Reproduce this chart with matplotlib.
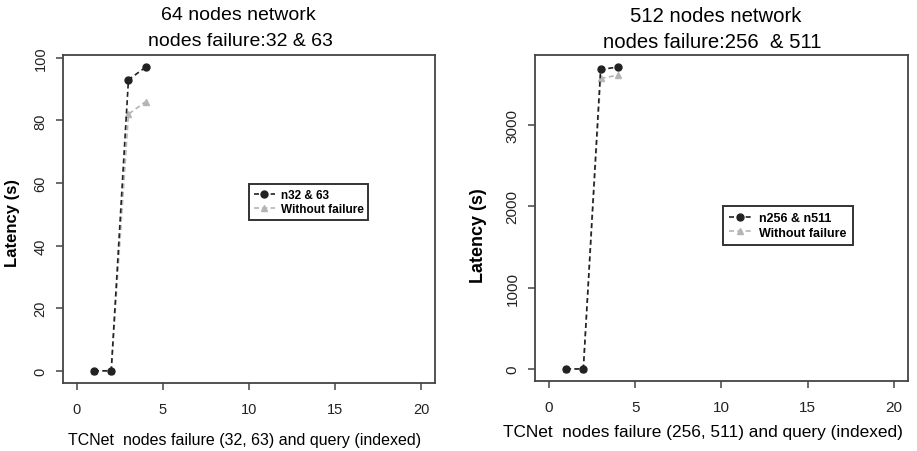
import matplotlib
matplotlib.use("Agg")
import matplotlib.pyplot as plt

plt.rcParams['font.family'] = ['Liberation Sans', 'DejaVu Sans']

x = [1, 2, 3, 4]
left_fail = [0, 0, 93, 97]
left_nofail = [0, 0, 82, 86]
right_fail = [0, 0, 3680, 3710]
right_nofail = [0, 0, 3570, 3610]
xticks = [0, 5, 10, 15, 20]
left_yticks = [0, 20, 40, 60, 80, 100]
right_yticks = [0, 1000, 2000, 3000]

fig = plt.figure(figsize=(9.17, 4.52), dpi=100)
axL = fig.add_axes([0.0687, 0.1504, 0.4057, 0.7257])
axR = fig.add_axes([0.5834, 0.1549, 0.4068, 0.7212])

def style(ax, yticks, ylim, fs):
    ax.set_xlim(-0.8, 20.8)
    ax.set_ylim(*ylim)
    ax.set_xticks(xticks)
    ax.set_yticks(yticks)
    for s in ax.spines.values():
        s.set_color('#444444')
        s.set_linewidth(1.3)
    ax.tick_params(axis='both', length=5, width=1.1, color='#444444',
                   labelsize=fs, labelcolor='#222222')
    ax.tick_params(axis='x', pad=9)
    ax.tick_params(axis='y', pad=6)
    for lab in ax.get_yticklabels():
        lab.set_rotation(90)
        lab.set_va('center')

def draw(ax, yf, yn, labf):
    ax.plot(x, yn, linestyle=(0, (3, 2)), color='#b5b5b5', marker='^',
            markersize=5, linewidth=1.2, label='Without failure', zorder=2)
    ax.plot(x, yf, linestyle=(0, (3, 2)), color='#222222', marker='o',
            markersize=5, linewidth=1.2, label=labf, zorder=3)
    h, l = ax.get_legend_handles_labels()
    return h[::-1], l[::-1]

h, l = draw(axL, left_fail, left_nofail, 'n32 & 63')
style(axL, left_yticks, (-3.9, 100.9), 10.5)
legL = axL.legend(h, l, loc='upper left', bbox_to_anchor=(0.5, 0.607),
                  prop={'weight': 'bold', 'size': 8.5}, fancybox=False,
                  edgecolor='#333333', framealpha=1, handlelength=1.8,
                  handletextpad=0.5, borderpad=0.4, labelspacing=0.2,
                  borderaxespad=0)
legL.get_frame().set_linewidth(1.4)

h, l = draw(axR, right_fail, right_nofail, 'n256 & n511')
style(axR, right_yticks, (-148, 3858), 11)
legR = axR.legend(h, l, loc='upper left', bbox_to_anchor=(0.504, 0.537),
                  prop={'weight': 'bold', 'size': 9}, fancybox=False,
                  edgecolor='#333333', framealpha=1, handlelength=1.8,
                  handletextpad=0.6, borderpad=0.5, labelspacing=0.2,
                  borderaxespad=0)
legR.get_frame().set_linewidth(1.4)

axL.set_ylabel('Latency (s)', fontsize=12, fontweight='bold')
axL.yaxis.set_label_coords(-0.116, 0.49)
axR.set_ylabel('Latency (s)', fontsize=13, fontweight='bold')
axR.yaxis.set_label_coords(-0.129, 0.45)

axL.set_xlabel('TCNet  nodes failure (32, 63) and query (indexed)', fontsize=11.5)
axL.xaxis.set_label_coords(0.489, -0.149)
axR.set_xlabel('TCNet  nodes failure (256, 511) and query (indexed)', fontsize=12.4)
axR.xaxis.set_label_coords(0.45, -0.132)

fig.text(238/917, 1 - 15/452, '64 nodes network', fontsize=14, ha='center', va='center')
fig.text(240/917, 1 - 41/452, 'nodes failure:32 & 63', fontsize=14, ha='center', va='center')
fig.text(716/917, 1 - 17/452, '512 nodes network', fontsize=14.6, ha='center', va='center')
fig.text(712/917, 1 - 43/452, 'nodes failure:256  & 511', fontsize=14.6, ha='center', va='center')

fig.savefig('out.png', dpi=100)
